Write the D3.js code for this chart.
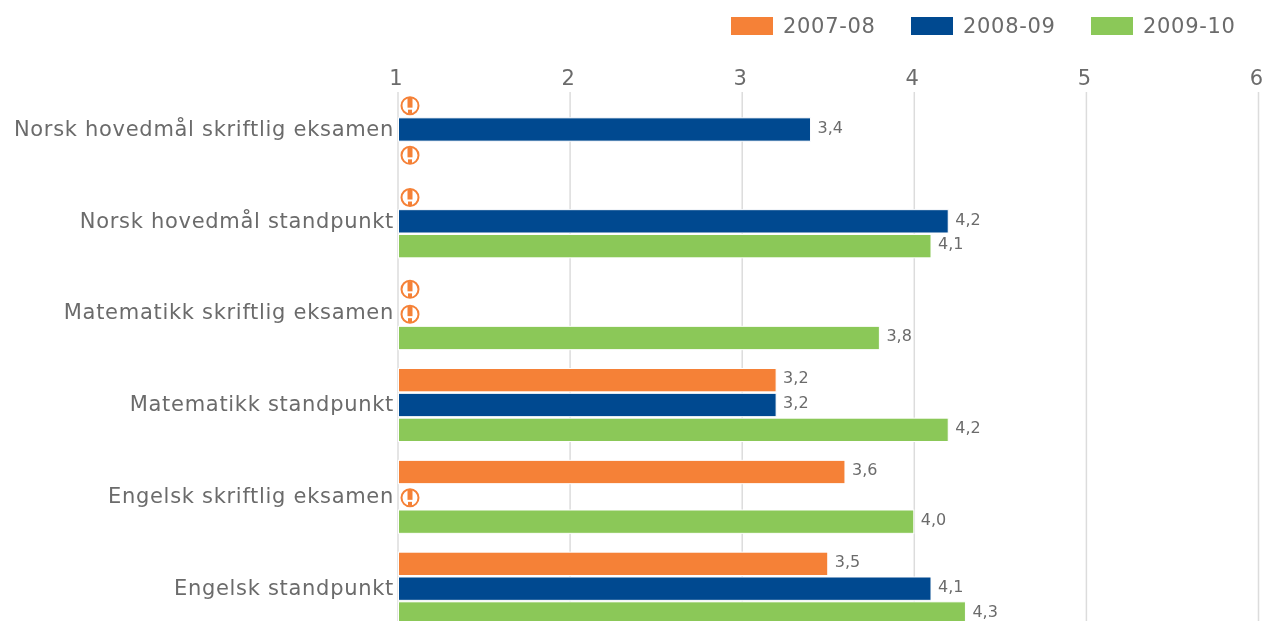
<!DOCTYPE html>
<html>
<head>
<meta charset="utf-8">
<script src="https://cdnjs.cloudflare.com/ajax/libs/d3/7.8.5/d3.min.js"></script>
<style>
  html, body { margin: 0; padding: 0; background: #fff; overflow: hidden; }
  text { font-family: "DejaVu Sans", sans-serif; fill: #6b6b6b; }
  svg { filter: blur(0.4px); }
</style>
</head>
<body>
<div id="chart-area"></div>
<script>
const categories = [
  "Norsk hovedmål skriftlig eksamen",
  "Norsk hovedmål standpunkt",
  "Matematikk skriftlig eksamen",
  "Matematikk standpunkt",
  "Engelsk skriftlig eksamen",
  "Engelsk standpunkt"
]
const seriesNames = ["2007-08", "2008-09", "2009-10"]
const seriesColors = ["#f58137", "#004990", "#8bc858"]
// null = no data, drawn as a warning icon
const values0708 = [null, null, null, 3.2, 3.6, 3.5]
const values0809 = [3.4, 4.2, null, 3.2, null, 4.1]
const values0910 = [null, 4.1, 3.8, 4.2, 4.0, 4.3]
const xTicks = [1, 2, 3, 4, 5, 6]

const allValues = [values0708, values0809, values0910]

const svg = d3.select("#chart-area").append("svg")
  .attr("width", 1278)
  .attr("height", 621)
  .style("display", "block")

const x = d3.scaleLinear().domain([1, 6]).range([397.5, 1258])
const y = d3.scaleBand().domain(categories).range([83.5, 634.5])
const inner = d3.scaleBand().domain(seriesNames).range([9.5, 82.5]).paddingInner(0.06).paddingOuter(0)

// axis and gridlines
const axis = svg.append("g")
  .attr("transform", "translate(0,92)")
  .call(d3.axisTop(x).tickValues(xTicks).tickFormat(d3.format("d")).tickSizeInner(-540).tickSizeOuter(0).tickPadding(3))
axis.select(".domain").remove()
axis.selectAll("line").attr("stroke", "#dcdcdc").attr("stroke-width", 1.5).attr("y2", 540)
axis.selectAll("text")
  .attr("dx", -2)
  .attr("y", -7)
  .style("font-size", "21px")
  .style("font-family", "'DejaVu Sans', sans-serif")

// category labels
svg.append("g").selectAll("text")
  .data(categories)
  .enter()
  .append("text")
    .attr("x", 394)
    .attr("y", d => y(d) + y.bandwidth() / 2)
    .attr("dy", "0.3em")
    .attr("text-anchor", "end")
    .style("font-size", "21px")
    .style("letter-spacing", "0.7px")
    .text(d => d)

// bars, value labels, warning icons
seriesNames.forEach((name, s) => {
  const rows = categories.map((cat, i) => ({cat: cat, value: allValues[s][i]}))
  const group = svg.append("g").attr("class", "series")

  const present = rows.filter(d => d.value !== null)
  group.selectAll("rect")
    .data(present)
    .enter()
    .append("rect")
      .attr("x", x(1) + 1)
      .attr("y", d => y(d.cat) + inner(name))
      .attr("width", d => x(d.value) - x(1) - 1)
      .attr("height", inner.bandwidth())
      .attr("fill", seriesColors[s])
      .attr("stroke", "#fff")
      .attr("stroke-width", 1)

  group.selectAll("text")
    .data(present)
    .enter()
    .append("text")
      .attr("x", d => x(d.value) + 7)
      .attr("y", d => y(d.cat) + inner(name) + inner.bandwidth() / 2)
      .attr("dy", "0.2em")
      .style("font-size", "16px")
      .style("stroke", "#fff")
      .style("stroke-width", 3)
      .style("paint-order", "stroke")
      .text(d => d.value.toFixed(1).replace(".", ","))

  const icons = group.selectAll("g.icon")
    .data(rows.filter(d => d.value === null))
    .enter()
    .append("g")
      .attr("class", "icon")
      .attr("transform", d => `translate(${x(1) + 12.5},${y(d.cat) + inner(name) + inner.bandwidth() / 2 + 1})`)
  icons.append("circle")
    .attr("r", 8.5)
    .attr("fill", "#fff")
    .attr("stroke", "#f58137")
    .attr("stroke-width", 2)
  icons.append("rect")
    .attr("x", -2.5).attr("y", -8).attr("width", 5).attr("height", 10)
    .attr("fill", "#f58137")
  icons.append("rect")
    .attr("x", -2).attr("y", 4).attr("width", 4).attr("height", 4)
    .attr("fill", "#f58137")
})

// legend
const legendX = d3.scaleOrdinal().domain(seriesNames).range([731, 911, 1091])
const legend = svg.append("g").selectAll("g")
  .data(seriesNames)
  .enter()
  .append("g")
    .attr("transform", d => `translate(${legendX(d)},17)`)
legend.append("rect")
  .attr("width", 42)
  .attr("height", 18)
  .attr("fill", (d, i) => seriesColors[i])
legend.append("text")
  .attr("x", 52)
  .attr("y", 9)
  .attr("dy", "0.35em")
  .style("font-size", "21px")
  .style("letter-spacing", "0.7px")
  .text(d => d)
</script>
</body>
</html>
